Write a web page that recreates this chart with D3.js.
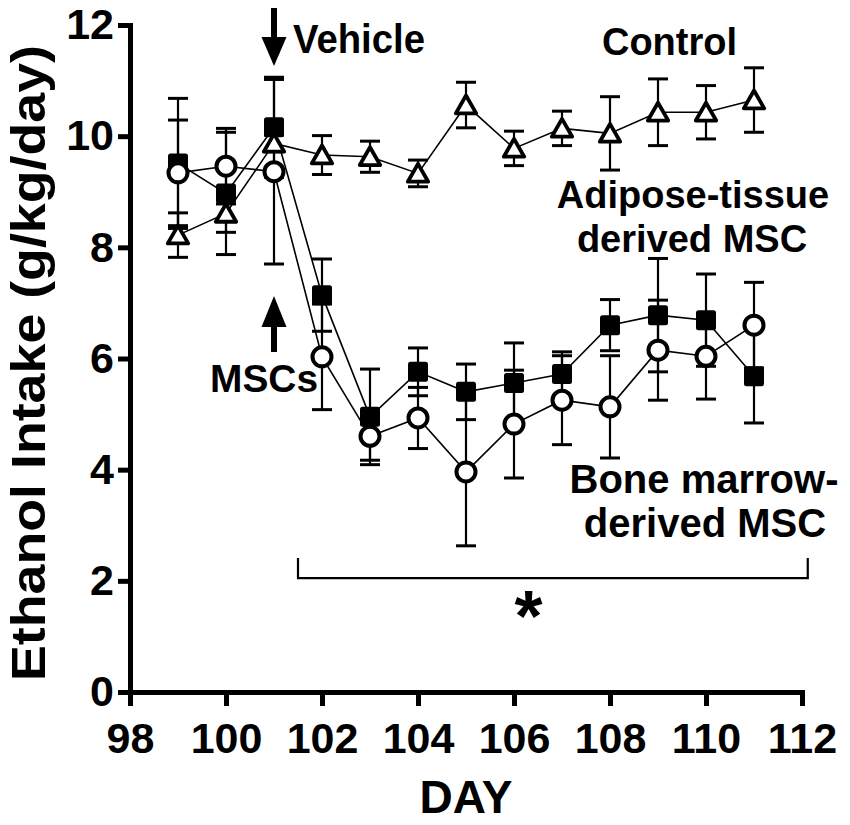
<!DOCTYPE html>
<html>
<head>
<meta charset="utf-8">
<script src="https://cdn.jsdelivr.net/npm/d3@7"></script>
<style>
  html, body { margin: 0; padding: 0; background: #fff; }
  text { font-family: "Liberation Sans", Arial, sans-serif; font-weight: bold; fill: #000; }
</style>
</head>
<body>
<div id="chart"></div>
<script>
// Days and group means (g/kg/day) with SEM
const days = [99, 100, 101, 102, 103, 104, 105, 106, 107, 108, 109, 110, 111];
const control    = [8.22, 8.61, 9.87, 9.66, 9.63, 9.33, 10.56, 9.78, 10.14, 10.05, 10.43, 10.43, 10.65];
const controlErr = [0.40, 0.34, 0.15, 0.35, 0.28, 0.24, 0.41, 0.31, 0.31, 0.66, 0.60, 0.48, 0.58];
const adipose    = [9.51, 8.97, 10.16, 7.14, 4.95, 5.76, 5.40, 5.56, 5.72, 6.60, 6.78, 6.69, 5.68];
const adiposeErr = [1.17, 1.10, 0.90, 0.65, 0.86, 0.43, 0.50, 0.72, 0.40, 0.46, 1.02, 0.83, 0.84];
const bone       = [9.34, 9.46, 9.36, 6.03, 4.60, 4.93, 3.96, 4.82, 5.25, 5.13, 6.15, 6.04, 6.60];
const boneErr    = [0.95, 0.68, 1.66, 0.95, 0.43, 0.55, 1.33, 0.97, 0.80, 0.92, 0.90, 0.77, 0.77];

const xTicks = [98, 100, 102, 104, 106, 108, 110, 112];
const yTicks = [0, 2, 4, 6, 8, 10, 12];

// treatment day, significance bracket span and level
const treatDay = 101;
const bracketSpan = [101.5, 112.12];
const bracketLevel = 2.05;
const starDay = 106.3;

const W = 850, H = 825;
const svg = d3.select("#chart").append("svg")
    .attr("width", W)
    .attr("height", H);

const x = d3.scaleLinear().domain([98, 112]).range([130, 802]);
const y = d3.scaleLinear().domain([0, 12]).range([692, 25]);

// axes
const yAxis = svg.append("g")
    .attr("transform", "translate(130,0)")
    .call(d3.axisLeft(y).tickValues(yTicks).tickSize(12).tickSizeOuter(0).tickPadding(4));
const xAxis = svg.append("g")
    .attr("transform", "translate(0,692)")
    .call(d3.axisBottom(x).tickValues(xTicks).tickSize(14).tickSizeOuter(0).tickPadding(16));

[yAxis, xAxis].forEach(g => {
    g.select(".domain").attr("stroke", "#000").attr("stroke-width", 5).attr("stroke-linecap", "square");
    g.selectAll(".tick line").attr("stroke", "#000").attr("stroke-width", 5);
    g.selectAll(".tick text")
        .style("font-family", "'Liberation Sans', Arial, sans-serif")
        .style("font-weight", "bold")
        .style("font-size", "43px")
        .attr("fill", "#000");
});

// axis titles
svg.append("text")
    .attr("transform", "translate(45,363) rotate(-90)")
    .attr("text-anchor", "middle")
    .attr("textLength", 636)
    .attr("lengthAdjust", "spacingAndGlyphs")
    .style("font-size", "48px")
    .text("Ethanol Intake (g/kg/day)");

svg.append("text")
    .attr("x", x(105))
    .attr("y", 813)
    .attr("text-anchor", "middle")
    .style("font-size", "46px")
    .text("DAY");

// series
const series = [
    { name: "adipose", vals: adipose, err: adiposeErr, shape: "square" },
    { name: "control", vals: control, err: controlErr, shape: "triangle" },
    { name: "bone", vals: bone, err: boneErr, shape: "circle" }
];

const pts = s => days.map((d, i) => ({ d: d, v: s.vals[i], e: s.err[i] }));

// error bars
series.forEach(s => {
    const g = svg.append("g").attr("stroke", "#000");
    const p = g.selectAll("g").data(pts(s)).enter().append("g");
    p.append("line")
        .attr("x1", d => x(d.d)).attr("x2", d => x(d.d))
        .attr("y1", d => y(d.v + d.e)).attr("y2", d => y(d.v - d.e))
        .attr("stroke-width", 2.2);
    p.append("line")
        .attr("x1", d => x(d.d) - 10).attr("x2", d => x(d.d) + 10)
        .attr("y1", d => y(d.v + d.e)).attr("y2", d => y(d.v + d.e))
        .attr("stroke-width", 3);
    p.append("line")
        .attr("x1", d => x(d.d) - 10).attr("x2", d => x(d.d) + 10)
        .attr("y1", d => y(d.v - d.e)).attr("y2", d => y(d.v - d.e))
        .attr("stroke-width", 3);
});

// connecting lines
const line = d3.line().x(d => x(d.d)).y(d => y(d.v));
series.forEach(s => {
    svg.append("path")
        .datum(pts(s))
        .attr("d", line)
        .attr("fill", "none")
        .attr("stroke", "#000")
        .attr("stroke-width", 1.6);
});

// markers
series.forEach(s => {
    const g = svg.append("g");
    const m = g.selectAll(".m").data(pts(s)).enter();
    if (s.shape === "square") {
        m.append("rect")
            .attr("x", d => x(d.d) - 10).attr("y", d => y(d.v) - 10)
            .attr("width", 20).attr("height", 20)
            .attr("rx", 2.5)
            .attr("fill", "#000");
    } else if (s.shape === "triangle") {
        m.append("path")
            .attr("transform", d => `translate(${x(d.d)},${y(d.v)})`)
            .attr("d", "M0,-9.5L10.2,8.3L-10.2,8.3Z")
            .attr("fill", "#fff")
            .attr("stroke", "#000")
            .attr("stroke-width", 3.8)
            .attr("stroke-linejoin", "round");
    } else {
        m.append("circle")
            .attr("cx", d => x(d.d)).attr("cy", d => y(d.v))
            .attr("r", 9.5)
            .attr("fill", "#fff")
            .attr("stroke", "#000")
            .attr("stroke-width", 4);
    }
});

// arrows
const tx = x(treatDay);
svg.append("rect").attr("x", tx - 3).attr("y", 8).attr("width", 6).attr("height", 32).attr("fill", "#000");
svg.append("path").attr("d", `M${tx - 12.5},37L${tx + 12.5},37L${tx},66Z`).attr("fill", "#000");
svg.append("path").attr("d", `M${tx - 12.5},327L${tx + 12.5},327L${tx},296Z`).attr("fill", "#000");
svg.append("rect").attr("x", tx - 3).attr("y", 325).attr("width", 6).attr("height", 27).attr("fill", "#000");

// labels
const label = (t, xx, yy, size, anchor, len) => {
    const el = svg.append("text")
        .attr("x", xx).attr("y", yy)
        .attr("text-anchor", anchor || "start")
        .style("font-size", size + "px")
        .text(t);
    if (len) el.attr("textLength", len).attr("lengthAdjust", "spacingAndGlyphs");
    return el;
};
label("Vehicle", 293, 53, 41, "start", 132);
label("Control", 602, 55, 39, "start", 135);
label("Adipose-tissue", 693, 208, 38, "middle");
label("derived MSC", 692, 252, 38, "middle");
label("MSCs", 210, 392, 39, "start", 108);
label("Bone marrow-", 704, 493, 40, "middle");
label("derived MSC", 705, 537, 40, "middle");

// significance bracket
const by = y(bracketLevel);
svg.append("path")
    .attr("d", `M${x(bracketSpan[0])},${by - 20}V${by}H${x(bracketSpan[1])}V${by - 20}`)
    .attr("fill", "none")
    .attr("stroke", "#000")
    .attr("stroke-width", 2.2);
svg.append("text")
    .attr("x", x(starDay))
    .attr("y", 641)
    .attr("text-anchor", "middle")
    .style("font-size", "72px")
    .text("*");
</script>
</body>
</html>
